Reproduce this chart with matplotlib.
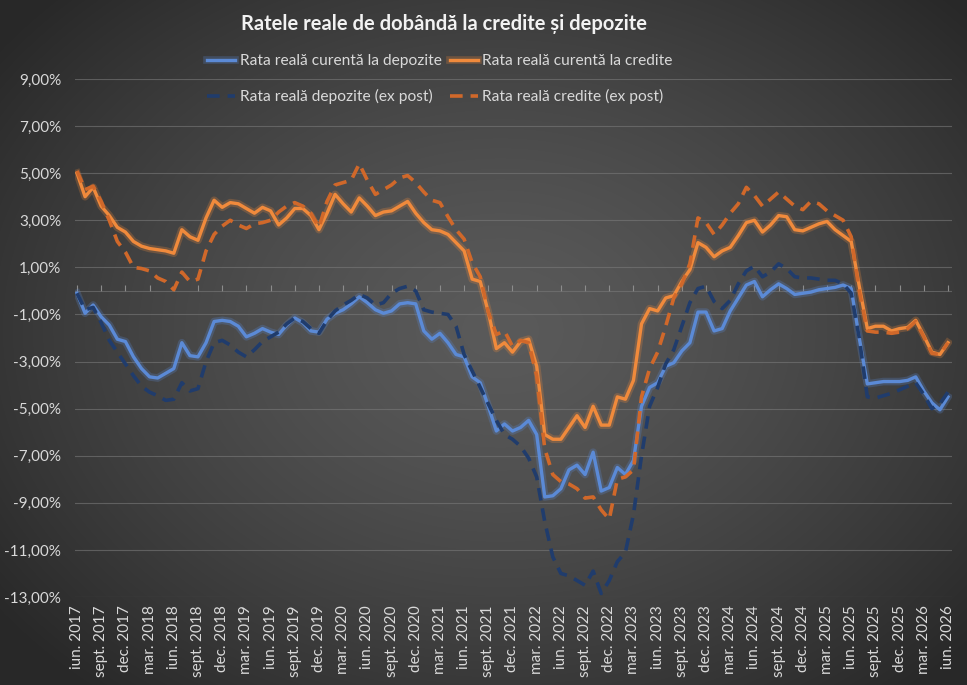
import numpy as np
import matplotlib
matplotlib.use("Agg")
import matplotlib.pyplot as plt
import matplotlib.patheffects as pe
from matplotlib.ticker import FuncFormatter

plt.rcParams["font.family"] = ["Lato", "DejaVu Sans"]

# ---------------- data (monthly, iun. 2017 - iun. 2026) ----------------
dep_cur = [-0.1, -0.95, -0.6, -1.1, -1.45, -2.05, -2.15, -2.8, -3.3, -3.65,
           -3.7, -3.5, -3.3, -2.2, -2.75, -2.8, -2.2, -1.3, -1.25, -1.3,
           -1.5, -1.95, -1.8, -1.6, -1.75, -1.85, -1.45, -1.15, -1.35, -1.7,
           -1.75, -1.2, -0.95, -0.8, -0.55, -0.25, -0.5, -0.8, -0.95, -0.85,
           -0.55, -0.5, -0.55, -1.7, -2.05, -1.8, -2.2, -2.7, -2.8, -3.65,
           -3.9, -4.9, -5.95, -5.65, -5.95, -5.8, -5.5, -6.1, -8.75, -8.7,
           -8.4, -7.6, -7.4, -7.8, -6.85, -8.5, -8.35, -7.5, -7.8, -7.2,
           -4.9, -4.1, -3.9, -3.2, -3.05, -2.55, -2.2, -0.9, -0.9, -1.7,
           -1.6, -0.85, -0.3, 0.25, 0.4, -0.25, 0.05, 0.3, 0.1, -0.15,
           -0.1, -0.05, 0.05, 0.1, 0.15, 0.25, 0.1, -2.0, -3.95, -3.9,
           -3.85, -3.85, -3.85, -3.8, -3.65, -4.25, -4.75, -5.05, -4.5]

cred_cur = [5.0, 4.0, 4.4, 3.6, 3.2, 2.7, 2.5, 2.1, 1.9, 1.8,
            1.75, 1.7, 1.6, 2.6, 2.3, 2.15, 3.1, 3.85, 3.55, 3.75,
            3.7, 3.5, 3.3, 3.55, 3.4, 2.8, 3.1, 3.5, 3.5, 3.2,
            2.6, 3.3, 4.1, 3.7, 3.35, 3.95, 3.6, 3.2, 3.35, 3.4,
            3.6, 3.8, 3.3, 2.9, 2.6, 2.55, 2.4, 2.05, 1.7, 0.5,
            0.4, -0.9, -2.45, -2.2, -2.6, -2.15, -2.05, -3.2, -6.1, -6.3,
            -6.3, -5.8, -5.3, -5.8, -4.9, -5.7, -5.7, -4.5, -4.6, -3.8,
            -1.4, -0.75, -0.85, -0.3, -0.2, 0.4, 0.9, 2.05, 1.85, 1.45,
            1.7, 1.85, 2.35, 2.9, 3.0, 2.5, 2.8, 3.2, 3.15, 2.6,
            2.55, 2.7, 2.85, 2.95, 2.6, 2.35, 2.1, 0.2, -1.6, -1.5,
            -1.5, -1.7, -1.6, -1.55, -1.25, -1.9, -2.6, -2.7, -2.2]

dep_ep = [-0.1, -0.8, -0.7, -1.35, -2.1, -2.6, -3.1, -3.6, -4.05, -4.3,
          -4.45, -4.65, -4.6, -3.9, -4.25, -4.15, -3.0, -2.2, -2.1, -2.3,
          -2.6, -2.8, -2.5, -2.15, -1.95, -1.75, -1.4, -1.15, -1.3, -1.6,
          -1.8, -1.25, -0.85, -0.6, -0.4, -0.15, -0.3, -0.6, -0.5, -0.1,
          0.1, 0.2, 0.0, -0.8, -0.9, -0.95, -1.0, -1.5, -2.7, -3.4,
          -4.1, -4.8, -5.5, -6.1, -6.3, -6.6, -7.1, -7.9, -9.8, -11.3,
          -12.0, -12.1, -12.3, -12.5, -11.9, -12.85, -12.3, -11.5, -11.1, -9.5,
          -7.0, -4.9, -4.1, -3.1, -2.5, -1.5, -0.5, 0.1, 0.2, -0.45,
          -0.75, -0.4, 0.3, 0.85, 1.05, 0.6, 0.8, 1.15, 0.95, 0.6,
          0.55, 0.55, 0.5, 0.45, 0.45, 0.3, -0.1, -2.0, -4.5, -4.55,
          -4.45, -4.35, -4.2, -4.05, -3.9, -4.4, -5.0, -4.8, -4.3]

cred_ep = [5.1, 4.3, 4.45, 3.8, 3.0, 2.1, 1.65, 1.0, 0.95, 0.85,
           0.55, 0.4, 0.05, 0.8, 0.4, 0.5, 1.7, 2.4, 2.75, 3.0,
           2.8, 2.65, 2.85, 2.9, 3.0, 3.35, 3.6, 3.75, 3.6, 3.3,
           2.7, 3.8, 4.5, 4.6, 4.7, 5.4, 4.7, 4.1, 4.3, 4.5,
           4.8, 4.9, 4.6, 4.2, 3.85, 3.75, 3.15, 2.6, 2.2, 1.2,
           0.6, -0.9, -1.85, -1.7, -2.35, -2.1, -2.2, -3.6, -6.7, -7.8,
           -8.1, -8.2, -8.4, -8.8, -8.75, -9.3, -9.7, -8.0, -7.9, -7.6,
           -4.5, -3.3, -2.6, -1.5, -0.3, 0.3, 1.15, 3.1, 2.9, 2.4,
           2.8, 3.3, 3.7, 4.4, 4.05, 3.6, 3.9, 4.2, 3.9, 3.6,
           3.45, 3.8, 3.7, 3.4, 3.2, 3.0, 2.3, 0.0, -1.7, -1.75,
           -1.75, -1.8, -1.75, -1.6, -1.3, -1.95, -2.65, -2.7, -2.2]

labels = ["Rata reală curentă la depozite", "Rata reală curentă la credite",
          "Rata reală depozite (ex post)", "Rata reală credite (ex post)"]

quarter_names = ["iun.", "sept.", "dec.", "mar."]
first_year = 2017
yticks = list(range(-13, 10, 2))

# ---------------------------------------------------------------------
months = np.arange(len(dep_cur))
tick_pos = months[::3]
tick_lab = [f"{quarter_names[k % 4]} {first_year + (p + 5) // 12}"
            for k, p in enumerate(tick_pos)]

W, H = 967, 685
fig = plt.figure(figsize=(W / 100, H / 100), dpi=100)

# radial grey background
bg = fig.add_axes([0, 0, 1, 1], zorder=-10)
yy, xx = np.mgrid[0:H, 0:W]
r = np.sqrt(((xx - 500) / 620.0) ** 2 + ((yy - 330) / 470.0) ** 2)
r = np.clip(r, 0, 1)
shade = (0x5a - (0x5a - 0x29) * r ** 1.4) / 255.0
bg.imshow(np.dstack([shade, shade, shade]), aspect="auto", extent=[0, 1, 0, 1])
bg.axis("off")

ax = fig.add_axes([75 / W, 1 - 597 / H, (952 - 75) / W, (597 - 79) / H])
ax.set_facecolor("none")
ax.set_xlim(-0.25, 108.5)
ax.set_ylim(-13, 9)

txt = "#d9d9d9"
ax.set_yticks(yticks)
ax.yaxis.set_major_formatter(FuncFormatter(lambda v, p: f"{v:.2f}%".replace(".", ",")))
ax.grid(axis="y", color="#7a7a7a", linewidth=0.8, alpha=0.6)
ax.set_axisbelow(True)
for s in ax.spines.values():
    s.set_visible(False)
ax.tick_params(axis="y", length=0, labelsize=11, labelcolor=txt, pad=10)
ax.set_xticks(tick_pos)
ax.set_xticklabels(tick_lab, rotation=90)
ax.tick_params(axis="x", length=0, labelsize=11, labelcolor=txt, pad=6)

# axis line at 0 % with small ticks pointing up
ax.axhline(0, color="#7a7a7a", linewidth=0.8, alpha=0.6, zorder=0.5)
zx = ax.secondary_xaxis(13 / 22)
zx.set_xticks(tick_pos)
zx.set_xticklabels([])
zx.tick_params(axis="x", length=4, width=0.8, color="#8c8c8c", direction="out")
for side in ("top", "bottom"):
    zx.spines[side].set_visible(False)

c_blue, c_orange = "#5b8ad6", "#f08a3c"
c_navy, c_dorange = "#203c6c", "#d0682a"
glow = lambda c: [pe.Stroke(linewidth=5.5, foreground=c, alpha=0.25), pe.Normal()]

l1, = ax.plot(months, dep_cur, color=c_blue, lw=2.4, path_effects=glow(c_blue), label=labels[0])
l2, = ax.plot(months, cred_cur, color=c_orange, lw=2.4, path_effects=glow(c_orange), label=labels[1])
l3, = ax.plot(months, dep_ep, color=c_navy, lw=2.6, dashes=(3.5, 2.2), label=labels[2])
l4, = ax.plot(months, cred_ep, color=c_dorange, lw=2.6, dashes=(3.5, 2.2), label=labels[3])

fig.text(444 / W, 1 - 24 / H, "Ratele reale de dobândă la credite și depozite",
         ha="center", va="center", fontsize=14.5, fontweight="bold", color="#f2f2f2")

leg = fig.legend([l1, l3, l2, l4], [labels[0], labels[2], labels[1], labels[3]],
                 ncol=2, loc="center", bbox_to_anchor=(440 / W, 1 - 79 / H),
                 frameon=False, fontsize=11.2, labelcolor=txt, handlelength=1.8,
                 handletextpad=0.3, columnspacing=0.5, labelspacing=1.35)

fig.savefig("out.png", dpi=100)
